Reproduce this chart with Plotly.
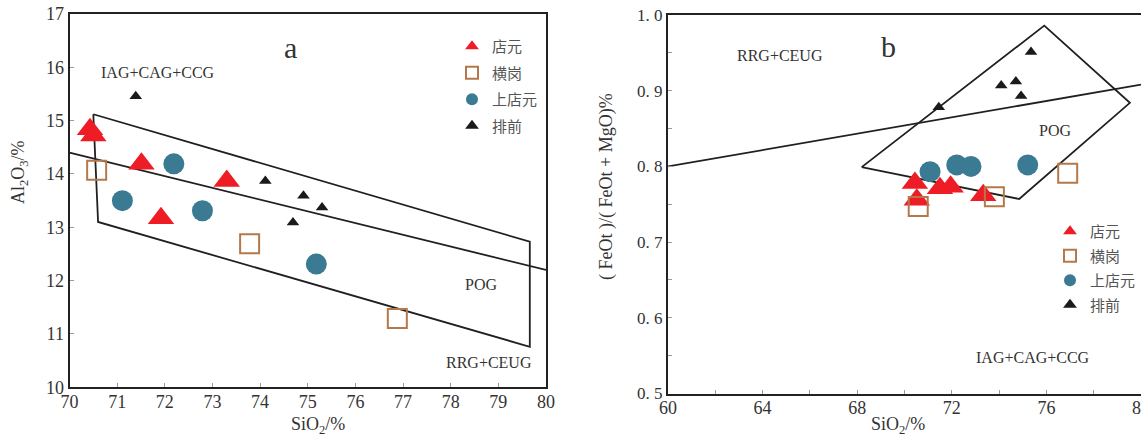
import plotly.graph_objects as go

W, H = 1141, 436
SERIF = "Liberation Serif, DejaVu Serif, serif"
CJK = "Noto Sans CJK SC, sans-serif"

# ---------------- data: panel a (SiO2 vs Al2O3) ----------------
a_dianyuan_x = [70.43, 70.50, 71.51, 73.30, 71.92]
a_dianyuan_y = [14.84, 14.72, 14.19, 13.87, 13.17]
a_henggang_x = [70.57, 73.78, 76.88]
a_henggang_y = [14.07, 12.69, 11.29]
a_shang_x = [71.11, 72.19, 72.79, 75.18]
a_shang_y = [13.50, 14.19, 13.31, 12.31]
a_paiqian_x = [71.39, 74.11, 74.91, 75.30, 74.69]
a_paiqian_y = [15.46, 13.87, 13.59, 13.37, 13.09]

# field boundaries, panel a
a_pog_x = [70.50, 79.66, 79.66, 70.60, 70.50]
a_pog_y = [15.12, 12.73, 10.76, 13.10, 15.12]
a_div_x = [70.0, 80.0]
a_div_y = [14.40, 12.20]

# ---------------- data: panel b (SiO2 vs FeOt/(FeOt+MgO)) ----------------
b_dianyuan_x = [70.44, 70.52, 71.50, 71.95, 73.33]
b_dianyuan_y = [0.778, 0.756, 0.771, 0.773, 0.762]
b_henggang_x = [70.58, 73.80, 76.90]
b_henggang_y = [0.747, 0.760, 0.791]
b_shang_x = [71.08, 72.21, 72.81, 75.21]
b_shang_y = [0.793, 0.802, 0.800, 0.802]
b_paiqian_x = [75.35, 74.09, 74.71, 74.93, 71.45]
b_paiqian_y = [0.951, 0.907, 0.912, 0.893, 0.878]

b_pog_x = [68.19, 75.91, 79.53, 74.85, 68.19]
b_pog_y = [0.799, 0.986, 0.884, 0.757, 0.799]
b_div_x = [60.0, 80.0]
b_div_y = [0.800, 0.908]

# ticks
a_xticks = list(range(70, 81))
a_yticks = list(range(10, 18))
b_xticks = [60, 64, 68, 72, 76, 80]
b_yticks = [0.5, 0.6, 0.7, 0.8, 0.9, 1.0]
b_yticktext = ["0.\u00a05", "0.\u00a06", "0.\u00a07", "0.\u00a08", "0.\u00a09", "1.\u00a00"]

series_names = ["店元", "横岗", "上店元", "排前"]
RED, BROWN, BLUE, BLACK = "#ee1c25", "#b5784a", "#3a7a93", "#1a1a1a"
LINE = "#231f20"

fig = go.Figure()

def add_panel(xa, ya, legend, data, sizes):
    for (lx, ly) in data["lines"]:
        fig.add_trace(go.Scatter(x=lx, y=ly, mode="lines", xaxis=xa, yaxis=ya,
                                 line=dict(color=LINE, width=1.8),
                                 showlegend=False, hoverinfo="skip"))
    specs = [
        (series_names[0], data["dy"], dict(symbol="triangle-up", color=RED, size=sizes[0])),
        (series_names[1], data["hg"], dict(symbol="square-open", color=BROWN, size=sizes[1],
                                            line=dict(width=2, color=BROWN))),
        (series_names[2], data["sd"], dict(symbol="circle", color=BLUE, size=sizes[2])),
        (series_names[3], data["pq"], dict(symbol="triangle-up", color=BLACK, size=sizes[3])),
    ]
    for i, (name, (px, py), mk) in enumerate(specs):
        fig.add_trace(go.Scatter(x=px, y=py, mode="markers", name=name,
                                 xaxis=xa, yaxis=ya, marker=mk,
                                 legend=legend, legendgroup=legend + str(i)))

add_panel("x", "y", "legend", dict(
    lines=[(a_pog_x, a_pog_y), (a_div_x, a_div_y)],
    dy=(a_dianyuan_x, a_dianyuan_y), hg=(a_henggang_x, a_henggang_y),
    sd=(a_shang_x, a_shang_y), pq=(a_paiqian_x, a_paiqian_y)), [23, 19, 21, 11])

add_panel("x2", "y2", "legend2", dict(
    lines=[(b_pog_x, b_pog_y), (b_div_x, b_div_y)],
    dy=(b_dianyuan_x, b_dianyuan_y), hg=(b_henggang_x, b_henggang_y),
    sd=(b_shang_x, b_shang_y), pq=(b_paiqian_x, b_paiqian_y)), [23, 19, 21, 11])

axis_common = dict(showgrid=False, zeroline=False, showline=True, mirror=True,
                   linecolor="#222", linewidth=2, ticks="inside", ticklen=4,
                   tickcolor="#999", tickwidth=1, automargin=False)

fig.update_layout(
    width=W, height=H,
    margin=dict(l=0, r=0, t=0, b=0, pad=0, autoexpand=False),
    paper_bgcolor="white", plot_bgcolor="white",
    font=dict(family=SERIF, color="#333"),
    xaxis=dict(domain=[69.5 / W, 546 / W], range=[70, 80], tickvals=a_xticks,
               ticklabelstandoff=-3,
               tickfont=dict(size=18, family=SERIF, color="#333"), anchor="y", **axis_common),
    yaxis=dict(domain=[(H - 387.3) / H, (H - 14) / H], range=[10, 17], tickvals=a_yticks,
               tickfont=dict(size=18, family=SERIF, color="#333"), anchor="x", **axis_common),
    xaxis2=dict(domain=[668 / W, 1.0], range=[60, 80], tickvals=b_xticks,
                ticklabeloverflow="allow", ticklabelstandoff=-3,
                minor=dict(dtick=2, ticks="inside", ticklen=4, tickcolor="#999"),
                tickfont=dict(size=18, family=SERIF, color="#333"), anchor="y2", **axis_common),
    yaxis2=dict(domain=[(H - 393.5) / H, (H - 15) / H], range=[0.5, 1.0],
                tickvals=b_yticks, ticktext=b_yticktext,
                minor=dict(dtick=0.05, ticks="inside", ticklen=4, tickcolor="#999"),
                tickfont=dict(size=17, family=SERIF, color="#333"), anchor="x2", **axis_common),
    legend=dict(x=452 / W, y=(H - 30) / H, xanchor="left", yanchor="top",
                bgcolor="rgba(0,0,0,0)", itemsizing="constant", tracegroupgap=4,
                font=dict(family=CJK, size=15, color="#555"), itemwidth=30),
    legend2=dict(x=1050 / W, y=(H - 215) / H, xanchor="left", yanchor="top",
                 bgcolor="rgba(0,0,0,0)", itemsizing="constant", tracegroupgap=2,
                 font=dict(family=CJK, size=15, color="#555"), itemwidth=30),
    showlegend=True,
)

def ann(text, x, y, xref, yref, size, angle=0):
    fig.add_annotation(text=text, x=x, y=y, xref=xref, yref=yref, showarrow=False,
                       textangle=angle, xanchor="center", yanchor="middle",
                       font=dict(family=SERIF, size=size, color="#333"))

# panel a labels
ann("a", 74.64, 16.38, "x", "y", 30)
ann("IAG+CAG+CCG", 71.85, 15.91, "x", "y", 16)
ann("POG", 78.63, 11.92, "x", "y", 16)
ann("RRG+CEUG", 78.81, 10.47, "x", "y", 16)
# panel b labels
ann("b", 69.34, 0.958, "x2", "y2", 30)
ann("RRG+CEUG", 64.74, 0.946, "x2", "y2", 16)
ann("POG", 76.36, 0.847, "x2", "y2", 16)
ann("IAG+CAG+CCG", 75.43, 0.547, "x2", "y2", 16)

# axis titles
ann("Al<sub>2</sub>O<sub>3</sub>/%", 20 / W, (H - 172) / H, "paper", "paper", 18, -90)
ann("SiO<sub>2</sub>/%", 318 / W, (H - 425) / H, "paper", "paper", 18)
ann("( FeOt )/( FeOt + MgO)%", 606 / W, (H - 187) / H, "paper", "paper", 18, -90)
ann("SiO<sub>2</sub>/%", 898 / W, (H - 425) / H, "paper", "paper", 18)

fig.write_html("out.html",
               config={"displayModeBar": False},
               post_script="document.body.style.margin='0';document.body.style.overflow='hidden';")
